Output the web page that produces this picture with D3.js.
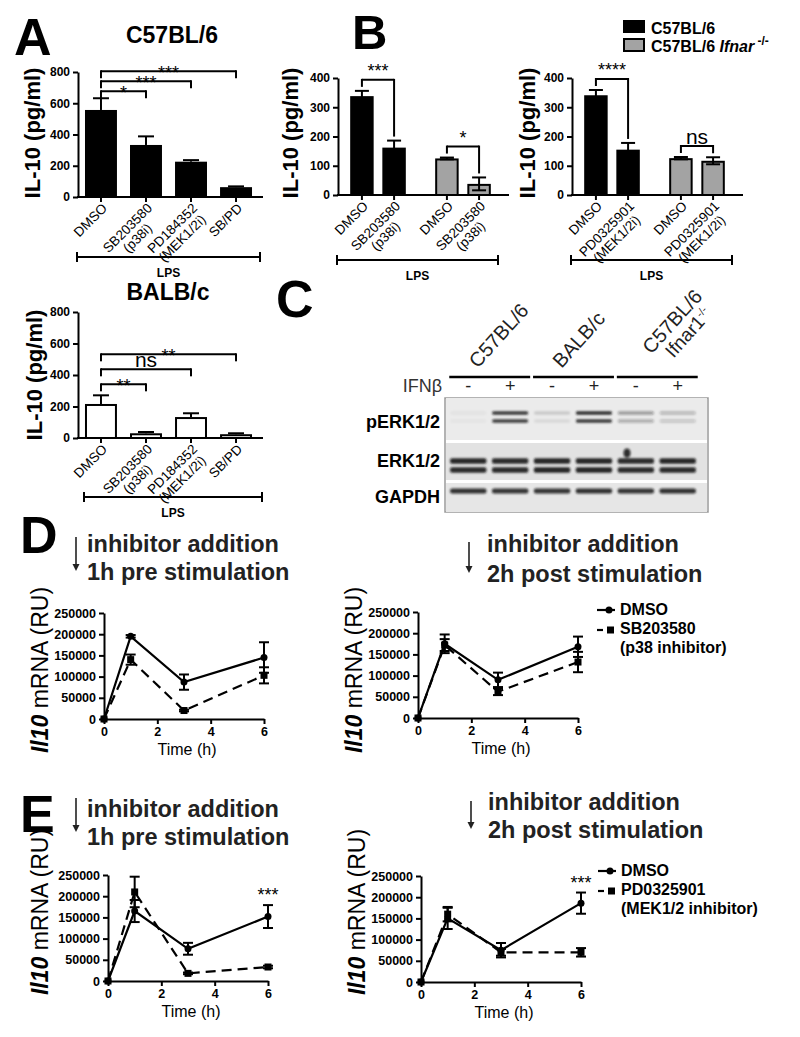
<!DOCTYPE html>
<html><head><meta charset="utf-8">
<script src="https://cdn.jsdelivr.net/npm/d3@7"></script>
<style>body{margin:0;background:#fff}svg{display:block}</style>
</head><body>
<script>
// ================= DATA =================
// Panel A
const aCategories = ["DMSO", "SB203580|(p38i)", "PD184352|(MEK1/2i)", "SB/PD"];
const aC57Mean = [557, 333, 226, 63];
const aC57Err  = [75, 55, 10, 5];
const aC57Sig  = ["*", "***", "***"];          // each inhibitor vs DMSO
const aBalbMean = [216, 30, 133, 24];
const aBalbErr  = [55, 8, 24, 6];
const aBalbSig  = ["**", "ns", "**"];
const aYTicks = [0, 200, 400, 600, 800];

// Panel B
const bGroups = ["C57BL/6", "C57BL/6 Ifnar-/-"];
const bP38Categories = ["DMSO", "SB203580|(p38i)"];
const bP38Mean = [[338, 162], [125, 38]];
const bP38Err  = [[18, 24], [3, 22]];
const bP38Sig  = ["***", "*"];
const bMekCategories = ["DMSO", "PD0325901|(MEK1/2i)"];
const bMekMean = [[341, 155], [126, 117]];
const bMekErr  = [[18, 23], [4, 12]];
const bMekSig  = ["****", "ns"];
const bYTicks = [0, 100, 200, 300, 400];

// Panel C (western blot, band intensities 0-1 per lane)
const cGroups = ["C57BL/6", "BALB/c", "C57BL/6|Ifnar1"];
const cIFNb = ["-", "+", "-", "+", "-", "+"];
const cRows = ["pERK1/2", "ERK1/2", "GAPDH"];
const cPERKUpper = [0.04, 0.85, 0.14, 0.9, 0.38, 0.24];
const cPERKLower = [0.03, 0.8, 0.08, 0.85, 0.3, 0.18];
const cERKUpper  = [0.92, 0.9, 0.95, 0.95, 0.9, 0.92];
const cERKLower  = [0.9, 0.9, 0.95, 0.95, 0.9, 0.9];
const cGAPDH     = [0.88, 0.86, 0.86, 0.88, 0.86, 0.88];

// Panels D & E
const timeHours = [0, 1, 3, 6];
const tcYTicks = [0, 50000, 100000, 150000, 200000, 250000];
const tcXTicks = [0, 2, 4, 6];
const dPreDMSO = [0, 195000, 87000, 145000];
const dPreDMSOErr = [0, 3000, 18000, 36000];
const dPreSB = [0, 140000, 20000, 103000];
const dPreSBErr = [0, 12000, 2000, 19000];
const dPostDMSO = [0, 175000, 90000, 168000];
const dPostDMSOErr = [0, 22000, 17000, 24000];
const dPostSB = [0, 172000, 62000, 132000];
const dPostSBErr = [0, 14000, 8000, 24000];
const ePreDMSO = [0, 165000, 76000, 152000];
const ePreDMSOErr = [0, 26000, 14000, 27000];
const ePrePD = [0, 210000, 18000, 33000];
const ePrePDErr = [0, 36000, 2000, 3000];
const ePostDMSO = [0, 150000, 75000, 186000];
const ePostDMSOErr = [0, 25000, 17000, 25000];
const ePostPD = [0, 160000, 70000, 70000];
const ePostPDErr = [0, 17000, 8000, 10000];

// ================= DRAWING =================
const FF = '"Liberation Sans", Arial, Helvetica, sans-serif';
const svg = d3.select("body").append("svg")
  .attr("width", 800).attr("height", 1037)
  .style("font-family", FF);

const defs = svg.append("defs");
defs.append("filter").attr("id", "blur").attr("x", "-20%").attr("y", "-100%").attr("width", "140%").attr("height", "300%")
  .append("feGaussianBlur").attr("stdDeviation", 1.3);

function text(parent, x, y, s, size, o = {}) {
  const t = parent.append("text").attr("x", x).attr("y", y)
    .attr("font-size", size)
    .attr("font-weight", o.weight || "normal")
    .attr("font-style", o.style || "normal")
    .attr("text-anchor", o.anchor || "start")
    .attr("fill", o.fill || "#000")
    .text(s);
  if (o.rotate) t.attr("transform", `rotate(${o.rotate},${x},${y})`);
  return t;
}
function line(parent, x1, y1, x2, y2, w = 2, o = {}) {
  const l = parent.append("line").attr("x1", x1).attr("y1", y1).attr("x2", x2).attr("y2", y2)
    .attr("stroke", o.color || "#000").attr("stroke-width", w);
  if (o.dash) l.attr("stroke-dasharray", o.dash);
  return l;
}
function styleAxis(g, size = 12) {
  g.selectAll("path.domain").attr("stroke-width", 2);
  g.selectAll(".tick line").attr("stroke-width", 2);
  g.selectAll(".tick text").attr("font-size", size).attr("font-weight", "bold")
    .attr("font-family", FF).attr("fill", "#000");
}
function yLabelIL10(x, y) {
  text(svg, x, y, "IL-10 (pg/ml)", 22, { weight: "bold", anchor: "middle", rotate: -90 });
}
// rotated category label (two lines split by "|")
function catLabel(parent, cx, yAxis, label, size) {
  const parts = label.split("|");
  const g = parent.append("g").attr("transform", `translate(${cx + 7},${yAxis + 12}) rotate(-45)`);
  const t1 = g.append("text").attr("x", 0).attr("y", 0).attr("font-size", size)
    .attr("text-anchor", "end").text(parts[0]);
  if (parts[1]) {
    const w = t1.node().getComputedTextLength();
    g.append("text").attr("x", -w / 2).attr("y", size * 1.05).attr("font-size", size)
      .attr("text-anchor", "middle").text(parts[1]);
  }
}
function lpsBar(x1, x2, y) {
  line(svg, x1, y, x2, y, 2);
  line(svg, x1, y - 5, x1, y + 5, 2);
  line(svg, x2, y - 5, x2, y + 5, 2);
  text(svg, (x1 + x2) / 2, y + 20, "LPS", 12, { weight: "bold", anchor: "middle" });
}

// ---------- Panel A ----------
function panelA(o) {
  const y = d3.scaleLinear().domain([0, 800]).range([o.y0, o.yTop]);
  const x = d3.scaleBand().domain(aCategories).range([o.axisX + 1, o.axisX + 180])
    .paddingInner(0.29).paddingOuter(0.133);
  const g = svg.append("g");
  aCategories.forEach((c, i) => {
    const cx = x(c) + x.bandwidth() / 2;
    const yt = y(o.mean[i] + o.err[i]);
    line(g, cx, y(o.mean[i]), cx, yt, 2);
    line(g, cx - 8, yt, cx + 8, yt, 2);
  });
  const white = o.fill === "#fff";
  g.selectAll("rect.bar").data(o.mean).join("rect")
    .attr("x", (d, i) => x(aCategories[i]) + (white ? 1 : 0))
    .attr("width", x.bandwidth() - (white ? 2 : 0))
    .attr("y", d => y(d) + (white ? 1 : 0))
    .attr("height", d => o.y0 - y(d) - (white ? 1 : 0))
    .attr("fill", o.fill).attr("stroke", "#000").attr("stroke-width", white ? 2 : 0);
  const ax = g.append("g").attr("transform", `translate(${o.axisX},0)`)
    .call(d3.axisLeft(y).tickValues(aYTicks).tickSize(5).tickPadding(3).tickSizeOuter(0));
  styleAxis(ax);
  line(g, o.axisX - 1, o.y0, o.axisX + 185, o.y0, 2);
  aCategories.forEach(c => {
    const cx = x(c) + x.bandwidth() / 2;
    line(g, cx, o.y0, cx, o.y0 + 5, 2);
    catLabel(g, cx, o.y0, c, 13.5);
  });
  const cx0 = x(aCategories[0]) + x.bandwidth() / 2;
  const base = y(o.mean[0] + o.err[0]) - o.gap;
  o.sig.forEach((s, k) => {
    const ly = base - k * o.step;
    const cx = x(aCategories[k + 1]) + x.bandwidth() / 2;
    line(g, cx0, ly, cx, ly, 2);
    line(g, cx0, ly - 1, cx0, ly + 7, 2);
    line(g, cx, ly - 1, cx, ly + 7, 2);
    if (s === "ns") text(g, (cx0 + cx) / 2, ly - 2, s, 21, { anchor: "middle" });
    else text(g, (cx0 + cx) / 2, ly + o.starDy, s, 18, { anchor: "middle" });
  });
  yLabelIL10(o.labX, o.labY);
}

text(svg, 14, 55, "A", 52, { weight: "bold" });
text(svg, 172, 43, "C57BL/6", 23, { weight: "bold", anchor: "middle" });
panelA({ axisX: 78, y0: 197, yTop: 72, mean: aC57Mean, err: aC57Err, fill: "#000",
  sig: aC57Sig, gap: 7, step: 10, starDy: 8, labX: 40, labY: 133 });
lpsBar(77, 260, 257);
text(svg, 168, 300, "BALB/c", 23, { weight: "bold", anchor: "middle" });
panelA({ axisX: 78, y0: 438, yTop: 312, mean: aBalbMean, err: aBalbErr, fill: "#fff",
  sig: aBalbSig, gap: 11, step: 15, starDy: 8, labX: 42, labY: 375 });
lpsBar(84, 262, 497);

// ---------- Panel B ----------
function panelB(o) {
  const y = d3.scaleLinear().domain([0, 400]).range([195, 78]);
  const gx = d3.scaleBand().domain(bGroups).range([o.axisX + 8, o.axisX + 157]).paddingInner(0.247);
  const sx = d3.scaleBand().domain(o.cats).range([0, 64]).paddingInner(0.27).paddingOuter(0.13);
  const g = svg.append("g");
  const fills = ["#000", "#a3a3a3"];
  bGroups.forEach((grp, gi) => {
    o.cats.forEach((c, ci) => {
      const bx = gx(grp) + sx(c);
      const cx = bx + sx.bandwidth() / 2;
      g.append("rect").attr("x", bx + 1).attr("width", sx.bandwidth() - 2)
        .attr("y", y(o.mean[gi][ci]) + 1).attr("height", 195 - y(o.mean[gi][ci]) - 1)
        .attr("fill", fills[gi]).attr("stroke", "#000").attr("stroke-width", 2);
      const yt = y(o.mean[gi][ci] + o.err[gi][ci]);
      const yb = y(Math.max(0, o.mean[gi][ci] - o.err[gi][ci]));
      line(g, cx, yb, cx, yt, 2);
      line(g, cx - 7, yt, cx + 7, yt, 2);
      line(g, cx - 7, yb, cx + 7, yb, 2);
    });
    const c0 = gx(grp) + sx(o.cats[0]) + sx.bandwidth() / 2;
    const c1 = gx(grp) + sx(o.cats[1]) + sx.bandwidth() / 2;
    const t0 = y(o.mean[gi][0] + o.err[gi][0]);
    const t1 = y(o.mean[gi][1] + o.err[gi][1]);
    const ly = Math.min(t0, t1) - 11;
    line(g, c0, ly, c1, ly, 2);
    line(g, c0, ly - 1, c0, t0 - 4, 2);
    line(g, c1, ly - 1, c1, t1 - 4, 2);
    const s = o.sig[gi];
    if (s === "ns") text(g, (c0 + c1) / 2, ly - 2, s, 21, { anchor: "middle" });
    else text(g, (c0 + c1) / 2, ly - 3, s, 18, { anchor: "middle" });
  });
  const ax = g.append("g").attr("transform", `translate(${o.axisX},0)`)
    .call(d3.axisLeft(y).tickValues(bYTicks).tickSize(5).tickPadding(3).tickSizeOuter(0));
  styleAxis(ax);
  line(g, o.axisX - 1, 195, o.axisX + 171, 195, 2);
  bGroups.forEach(grp => o.cats.forEach(c => {
    const cx = gx(grp) + sx(c) + sx.bandwidth() / 2;
    line(g, cx, 195, cx, 200, 2);
    catLabel(g, cx, 195, c, 13.5);
  }));
  yLabelIL10(o.labX, 133);
  lpsBar(o.axisX - 1, o.axisX + 160, 260);
}
text(svg, 352, 49, "B", 49, { weight: "bold" });
panelB({ axisX: 338, cats: bP38Categories, mean: bP38Mean, err: bP38Err, sig: bP38Sig, labX: 298 });
panelB({ axisX: 572, cats: bMekCategories, mean: bMekMean, err: bMekErr, sig: bMekSig, labX: 535 });
svg.append("rect").attr("x", 623).attr("y", 20).attr("width", 22).attr("height", 13).attr("fill", "#000");
svg.append("rect").attr("x", 624).attr("y", 39).attr("width", 20).attr("height", 12).attr("fill", "#a3a3a3")
  .attr("stroke", "#000").attr("stroke-width", 2);
text(svg, 651, 34, bGroups[0], 16, { weight: "bold" });
{
  const t = svg.append("text").attr("x", 651).attr("y", 52).attr("font-size", 16).attr("font-weight", "bold");
  t.append("tspan").text("C57BL/6 ");
  t.append("tspan").attr("font-style", "italic").text("Ifnar");
  t.append("tspan").attr("dy", -7).attr("font-size", 12).text(" -/-");
}

// ---------- Panel C ----------
text(svg, 276, 317, "C", 52, { weight: "bold" });
{
  const lane = d3.scaleBand().domain(d3.range(cIFNb.length)).range([449, 697]).paddingInner(0.18).paddingOuter(0.05);
  const lc = i => lane(i) + lane.bandwidth() / 2;
  const g = svg.append("g");
  const strips = [{ y: 398, h: 42, fill: "#ebebeb" }, { y: 443, h: 37, fill: "#e2e2e2" }, { y: 483, h: 29, fill: "#e6e6e6" }];
  g.append("rect").attr("x", 445).attr("y", 398).attr("width", 263).attr("height", 114)
    .attr("fill", "#fff").attr("stroke", "#9a9a9a").attr("stroke-width", 1.5);
  strips.forEach(s => g.append("rect").attr("x", 446).attr("y", s.y).attr("width", 261).attr("height", s.h).attr("fill", s.fill));
  const bands = [
    { vals: cPERKUpper, y: 413, h: 3.5 }, { vals: cPERKLower, y: 421, h: 3.5 },
    { vals: cERKUpper, y: 461, h: 5.5 }, { vals: cERKLower, y: 470, h: 5.5 },
    { vals: cGAPDH, y: 491, h: 5 }
  ];
  const bg = g.append("g").attr("filter", "url(#blur)");
  bands.forEach(b => b.vals.forEach((v, i) => {
    bg.append("rect").attr("x", lane(i) - 1).attr("width", lane.bandwidth() + 2)
      .attr("y", b.y - b.h / 2).attr("height", b.h).attr("rx", 2)
      .attr("fill", "#1a1a1a").attr("opacity", v);
  }));
  bg.append("ellipse").attr("cx", 627).attr("cy", 453).attr("rx", 3.5).attr("ry", 4.5).attr("fill", "#111").attr("opacity", 0.85);
  text(svg, 440, 428, cRows[0], 18, { weight: "bold", anchor: "end" });
  text(svg, 440, 467, cRows[1], 18, { weight: "bold", anchor: "end" });
  text(svg, 440, 503, cRows[2], 18, { weight: "bold", anchor: "end" });
  text(svg, 442, 392, "IFNβ", 18, { anchor: "end", fill: "#333" });
  cIFNb.forEach((s, i) => text(svg, lc(i), 392, s, 18, { anchor: "middle", fill: "#222" }));
  cGroups.forEach((grp, gi) => {
    const x1 = lc(2 * gi) - 19, x2 = lc(2 * gi + 1) + 20;
    line(svg, x1, 377, x2, 377, 2.5);
    const parts = grp.split("|");
    const two = parts.length > 1;
    const gx = (x1 + x2) / 2 - (two ? 6 : 12);
    const lg = svg.append("g").attr("transform", `translate(${gx},${two ? 355 : 369}) rotate(-48)`);
    lg.append("text").attr("font-size", 20).attr("fill", "#222").text(parts[0]);
    if (two) {
      const t = lg.append("text").attr("x", 12).attr("y", 19).attr("font-size", 19).attr("fill", "#222");
      t.append("tspan").text(parts[1]);
      t.append("tspan").attr("dy", -7).attr("font-size", 11).text("-/-");
    }
  });
}

// ---------- Panels D & E ----------
function arrowTitle(ax, ay1, ay2, tx, b1, b2, l2) {
  line(svg, ax, ay1, ax, ay2 - 4, 1.6, { color: "#222" });
  svg.append("path").attr("d", `M${ax - 3.5},${ay2 - 7} L${ax},${ay2} L${ax + 3.5},${ay2 - 7} Z`).attr("fill", "#222");
  text(svg, tx, b1, "inhibitor addition", 23.5, { weight: "bold", fill: "#222" });
  text(svg, tx, b2, l2, 23.5, { weight: "bold", fill: "#222" });
}
function ylabelIl10(x, y) {
  const t = svg.append("text").attr("x", x).attr("y", y).attr("font-size", 23)
    .attr("text-anchor", "middle").attr("transform", `rotate(-90,${x},${y})`);
  t.append("tspan").attr("font-style", "italic").attr("font-weight", "bold").text("Il10");
  t.append("tspan").text(" mRNA (RU)");
}
function timeCourse(o) {
  const x = d3.scaleLinear().domain([0, 6]).range([o.axisX, o.axisX + 160]);
  const y = d3.scaleLinear().domain([0, 250000]).range([o.y0, o.y0 - 106]);
  const g = svg.append("g");
  const ay = g.append("g").attr("transform", `translate(${o.axisX},0)`)
    .call(d3.axisLeft(y).tickValues(tcYTicks).tickFormat(d3.format("d")).tickSize(5).tickPadding(3).tickSizeOuter(0));
  styleAxis(ay, 12.5);
  const axx = g.append("g").attr("transform", `translate(0,${o.y0})`)
    .call(d3.axisBottom(x).tickValues(tcXTicks).tickFormat(d3.format("d")).tickSize(5).tickPadding(3).tickSizeOuter(0));
  styleAxis(axx, 12.5);
  text(g, o.axisX + 83, o.y0 + 36, "Time (h)", 16, { anchor: "middle" });
  o.series.forEach(s => {
    const ln = d3.line().x((d, i) => x(timeHours[i])).y(d => y(d));
    g.append("path").attr("d", ln(s.mean)).attr("fill", "none").attr("stroke", "#000")
      .attr("stroke-width", 2.2).attr("stroke-dasharray", s.dashed ? "10,6" : null);
    s.mean.forEach((m, i) => {
      const cx = x(timeHours[i]);
      if (s.err[i] > 0) {
        const t = y(m + s.err[i]), b = y(m - s.err[i]);
        line(g, cx, t, cx, b, 2);
        line(g, cx - 5, t, cx + 5, t, 2);
        line(g, cx - 5, b, cx + 5, b, 2);
      }
      if (s.marker === "circle") g.append("circle").attr("cx", cx).attr("cy", y(m)).attr("r", 3.5).attr("fill", "#000");
      else g.append("rect").attr("x", cx - 3.5).attr("y", y(m) - 3.5).attr("width", 7).attr("height", 7).attr("fill", "#000");
    });
  });
  if (o.stars) {
    const s = o.series[0];
    const i = o.stars;
    text(g, x(timeHours[i]), y(s.mean[i] + s.err[i]) - 4, "***", 18, { anchor: "middle" });
  }
}
function tcLegend(x, yTop, names) {
  line(svg, x, yTop, x + 18, yTop, 2.2);
  svg.append("circle").attr("cx", x + 12).attr("cy", yTop).attr("r", 3.5);
  line(svg, x, yTop + 20, x + 6, yTop + 20, 2.2);
  svg.append("rect").attr("x", x + 10).attr("y", yTop + 16.5).attr("width", 7).attr("height", 7);
  text(svg, x + 23, yTop + 5, names[0], 16, { weight: "bold" });
  text(svg, x + 23, yTop + 24, names[1], 16, { weight: "bold" });
  text(svg, x + 23, yTop + 43, names[2], 16, { weight: "bold" });
}

// D
text(svg, 20, 553, "D", 52, { weight: "bold" });
arrowTitle(76, 537, 571, 87, 552, 580, "1h pre stimulation");
arrowTitle(469, 542, 573, 487, 552, 582, "2h post stimulation");
timeCourse({ axisX: 104, y0: 719, series: [
  { mean: dPreDMSO, err: dPreDMSOErr, marker: "circle" },
  { mean: dPreSB, err: dPreSBErr, marker: "square", dashed: true }] });
timeCourse({ axisX: 418, y0: 718, series: [
  { mean: dPostDMSO, err: dPostDMSOErr, marker: "circle" },
  { mean: dPostSB, err: dPostSBErr, marker: "square", dashed: true }] });
ylabelIl10(48, 670);
ylabelIl10(362, 670);
tcLegend(597, 610, ["DMSO", "SB203580", "(p38 inhibitor)"]);

// E
text(svg, 20, 832, "E", 52, { weight: "bold" });
arrowTitle(76, 798, 832, 87, 817, 845, "1h pre stimulation");
arrowTitle(471, 801, 829, 488, 810, 838, "2h post stimulation");
timeCourse({ axisX: 108, y0: 981, stars: 3, series: [
  { mean: ePreDMSO, err: ePreDMSOErr, marker: "circle" },
  { mean: ePrePD, err: ePrePDErr, marker: "square", dashed: true }] });
timeCourse({ axisX: 421, y0: 982, stars: 3, series: [
  { mean: ePostDMSO, err: ePostDMSOErr, marker: "circle" },
  { mean: ePostPD, err: ePostPDErr, marker: "square", dashed: true }] });
ylabelIl10(48, 912);
ylabelIl10(365, 912);
tcLegend(598, 871, ["DMSO", "PD0325901", "(MEK1/2 inhibitor)"]);
</script>
</body></html>
